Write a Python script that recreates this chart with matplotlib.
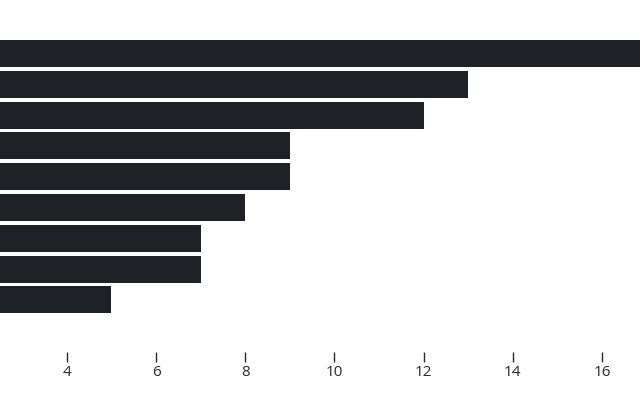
import matplotlib
matplotlib.use('Agg')
from matplotlib import pyplot as plt

categories = ['A', 'B', 'C', 'D', 'E', 'F', 'G', 'H', 'I']
values = [17, 13, 12, 9, 9, 8, 7, 7, 5]
xticks = [4, 6, 8, 10, 12, 14, 16]

plt.rcParams['font.family'] = ['Open Sans', 'DejaVu Sans']

fig = plt.figure(figsize=(6.4, 4.0), dpi=100)
ax = fig.add_axes([0, 48 / 400, 1, 352 / 400])

ypos = list(range(len(categories)))
ax.barh(ypos, values, height=0.875, color='#1e2126', edgecolor='none')

ax.set_xlim(2.5, 16.85)
ax.set_ylim(9.69, -1.737)
ax.set_xticks(xticks)
ax.set_xticklabels([str(t) for t in xticks])
ax.set_yticks([])
ax.tick_params(axis='x', length=7.2, width=1, color='#2a2a2a', pad=2.5,
               labelsize=11, labelcolor='#2a2a2a')
for s in ax.spines.values():
    s.set_visible(False)

fig.savefig('out.png', dpi=100)
